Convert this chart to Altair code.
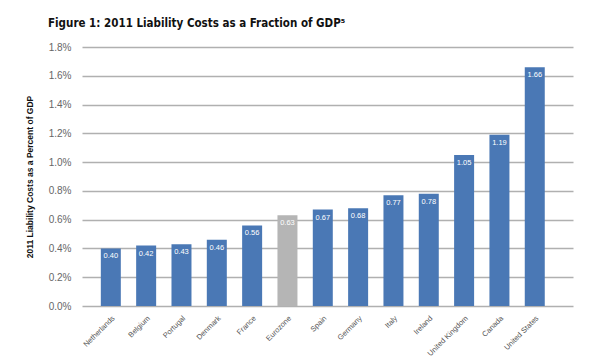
import altair as alt
import pandas as pd

countries = ["Netherlands", "Belgium", "Portugal", "Denmark", "France", "Eurozone",
             "Spain", "Germany", "Italy", "Ireland", "United Kingdom", "Canada", "United States"]
values = [0.40, 0.42, 0.43, 0.46, 0.56, 0.63, 0.67, 0.68, 0.77, 0.78, 1.05, 1.19, 1.66]
highlight = ["Eurozone"]

df = pd.DataFrame({
    "country": countries,
    "value": values,
    "label": [f"{v:.2f}" for v in values],
    "group": ["euro" if c in highlight else "nation" for c in countries],
})

x = alt.X("country:N", sort=countries,
          scale=alt.Scale(type="band", paddingInner=0.434, paddingOuter=0.666, align=0.4),
          axis=alt.Axis(title=None, labelAngle=-45, labelFontSize=7.5, labelColor="#555555",
                        labelFont="Liberation Sans", ticks=False, domain=False, labelPadding=8))
y = alt.Y("value:Q",
          scale=alt.Scale(domain=[0, 1.8], nice=False),
          axis=alt.Axis(title="2011 Liability Costs as a Percent of GDP",
                        titleFont="Liberation Sans", titleFontSize=8.5, titleFontWeight="bold",
                        titleColor="#111111", titlePadding=14,
                        values=[0, 0.2, 0.4, 0.6, 0.8, 1.0, 1.2, 1.4, 1.6, 1.8],
                        labelExpr="format(datum.value, '.1f') + '%'",
                        labelOverlap=False,
                        labelFont="Liberation Sans", labelFontSize=10, labelColor="#666666",
                        labelPadding=11, ticks=False, domain=False,
                        gridColor="#b0b0b0", gridWidth=1.5))

base = alt.Chart(df).encode(x=x, y=y)

bars = base.mark_bar().encode(
    color=alt.Color("group:N", scale=alt.Scale(domain=["nation", "euro"],
                                               range=["#4a78b5", "#b5b5b5"]), legend=None),
)

labels = base.mark_text(baseline="middle", dy=8, fontSize=7.5,
                        font="Liberation Sans", color="white").encode(text="label:N")

chart = (bars + labels).properties(
    width=491, height=259,
    title=alt.TitleParams("Figure 1: 2011 Liability Costs as a Fraction of GDP\u2075",
                          font="DejaVu Sans Condensed, Liberation Sans Narrow, sans-serif",
                          fontSize=11.5, fontWeight="bold",
                          color="#111111", anchor="start", frame="group", dx=-34, offset=13),
    autosize=alt.AutoSizeParams(type="none"),
    padding={"left": 74, "top": 39, "right": 21, "bottom": 55},
).configure_view(stroke=None)

chart.save("out.html", embed_options={"renderer": "svg", "actions": False})
